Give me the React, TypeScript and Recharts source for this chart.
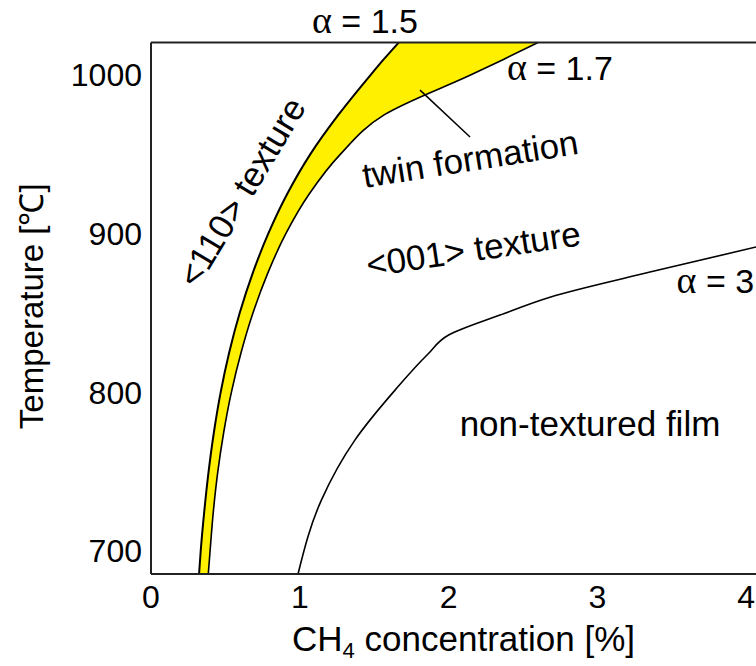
import React from 'react';
import {
  ComposedChart,
  Area,
  Line,
  XAxis,
  YAxis,
  ReferenceLine,
  ReferenceDot,
  Label,
} from 'recharts';

const FONT = '"Liberation Sans", Arial, Helvetica, sans-serif';
const SERIF = '"Liberation Serif", "Times New Roman", serif';

// Temperatures (°C) at which the two boundaries of the twin-formation band are given
const bandTemps = [685.5, 700, 725, 750, 775, 800, 825, 850, 875, 900, 925, 950, 975, 1000, 1010, 1020.5];
// CH4 concentration (%) of the α = 1.5 boundary at each of those temperatures
const alpha15Conc = [0.323, 0.334, 0.358, 0.387, 0.423, 0.468, 0.525, 0.596, 0.683, 0.788, 0.915, 1.07, 1.26, 1.475, 1.565, 1.665];
// CH4 concentration (%) of the α = 1.7 boundary at each of those temperatures
const alpha17Conc = [0.385, 0.397, 0.419, 0.449, 0.489, 0.54, 0.605, 0.685, 0.784, 0.906, 1.063, 1.272, 1.569, 2.147, 2.372, 2.601];

// α = 3 boundary between <001> texture and non-textured film
const alpha3Temps = [685.5, 732.1, 769.9, 801.4, 824.0, 836.1, 848.7, 860.0, 875.8, 891.6, 894.5];
const alpha3Conc = [0.988, 1.145, 1.37, 1.64, 1.86, 2.0, 2.345, 2.681, 3.353, 4.066, 4.2];

// Axis ranges and ticks
const xDomain = [0, 4.2];
const yDomain = [685.5, 1020.5];
const xTicks = [0, 1, 2, 3, 4];
const yTicks = [700, 800, 900, 1000];

const bandRows = bandTemps.map((t, i) => ({
  t,
  left: alpha15Conc[i],
  right: alpha17Conc[i],
  band: [alpha15Conc[i], alpha17Conc[i]],
}));

const alpha3Rows = alpha3Temps.map((t, i) => ({ t, x: alpha3Conc[i] }));

type Note = {
  x: number;
  y: number;
  angle: number;
  anchor: 'start' | 'middle' | 'end';
  baseline: 'central' | 'alphabetic';
  alpha?: string;
  text: string;
};

// Region names and boundary labels, placed in data coordinates
const notes: Note[] = [
  { x: 1.082, y: 1026.5, angle: 0, anchor: 'start', baseline: 'alphabetic', alpha: 'α', text: ' = 1.5' },
  { x: 2.392, y: 996.8, angle: 0, anchor: 'start', baseline: 'alphabetic', alpha: 'α', text: ' = 1.7' },
  { x: 4.053, y: 862.6, angle: 0, anchor: 'end', baseline: 'alphabetic', alpha: 'α', text: ' = 3' },
  { x: 0.605, y: 926.5, angle: -59, anchor: 'middle', baseline: 'central', text: '<110> texture' },
  { x: 2.144, y: 947.7, angle: -9, anchor: 'middle', baseline: 'central', text: 'twin formation' },
  { x: 2.165, y: 890.9, angle: -8.5, anchor: 'middle', baseline: 'central', text: '<001> texture' },
  { x: 2.95, y: 772.5, angle: 0, anchor: 'middle', baseline: 'alphabetic', text: 'non-textured film' },
];

// Leader from the band to the "twin formation" label
const leader = [
  { x: 1.808, y: 990.5 },
  { x: 2.144, y: 960.9 },
];

const noteShape = (n: Note) => (props: any) => {
  const { cx, cy } = props;
  return (
    <text
      x={cx}
      y={cy}
      textAnchor={n.anchor}
      dominantBaseline={n.baseline}
      transform={n.angle ? `rotate(${n.angle} ${cx} ${cy})` : undefined}
      fontSize={n.alpha ? 34 : 35}
      fontFamily={FONT}
      fill="#000"
    >
      {n.alpha ? (
        <tspan fontFamily={SERIF} fontSize={38}>
          {n.alpha}
        </tspan>
      ) : null}
      <tspan>{n.text}</tspan>
    </text>
  );
};

const XTitle = (props: any) => {
  const vb = props.viewBox;
  const cx = vb.x + vb.width / 2;
  return (
    <text x={cx} y={vb.y + 77} textAnchor="middle" fontSize={35} fontFamily={FONT} fill="#000">
      <tspan>CH</tspan>
      <tspan fontSize={22} dy={7}>
        4
      </tspan>
      <tspan dy={-7}> concentration [%]</tspan>
    </text>
  );
};

const YTitle = (props: any) => {
  const vb = props.viewBox;
  const cy = vb.y + vb.height / 2 - 2;
  const x = 43;
  return (
    <text
      x={x}
      y={cy}
      textAnchor="middle"
      transform={`rotate(-90 ${x} ${cy})`}
      fontSize={33}
      fontFamily={FONT}
      fill="#000"
    >
      Temperature [℃]
    </text>
  );
};

export default function App() {
  return (
    <div
      style={{
        position: 'absolute',
        left: 0,
        top: 0,
        width: 756,
        height: 666,
        overflow: 'hidden',
        background: '#fff',
      }}
    >
      <ComposedChart
        layout="vertical"
        width={776}
        height={666}
        data={bandRows}
        margin={{ top: 42.5, right: 0, bottom: 0, left: 0 }}
      >
        <XAxis
          type="number"
          domain={xDomain}
          ticks={xTicks}
          interval={0}
          height={92}
          tickLine={false}
          tickMargin={5}
          axisLine={{ stroke: '#222', strokeWidth: 2 }}
          tick={{ fontSize: 32, fill: '#000', fontFamily: FONT }}
        >
          <Label content={XTitle} />
        </XAxis>
        <YAxis
          type="number"
          dataKey="t"
          domain={yDomain}
          ticks={yTicks}
          interval={0}
          reversed
          width={151}
          tickLine={false}
          tickMargin={3}
          axisLine={{ stroke: '#222', strokeWidth: 2 }}
          tick={{ fontSize: 32, fill: '#000', fontFamily: FONT }}
        >
          <Label content={YTitle} />
        </YAxis>

        <Area
          type="monotone"
          dataKey="band"
          fill="#FFF000"
          fillOpacity={1}
          stroke="none"
          isAnimationActive={false}
        />
        <Line
          type="monotone"
          dataKey="left"
          stroke="#000"
          strokeWidth={2}
          dot={false}
          isAnimationActive={false}
        />
        <Line
          type="monotone"
          dataKey="right"
          stroke="#000"
          strokeWidth={1.6}
          dot={false}
          isAnimationActive={false}
        />
        <Line
          type="monotone"
          data={alpha3Rows}
          dataKey="x"
          stroke="#000"
          strokeWidth={1.6}
          dot={false}
          isAnimationActive={false}
        />

        <ReferenceLine y={yDomain[1]} stroke="#222" strokeWidth={2} ifOverflow="visible" />
        <ReferenceLine segment={leader} stroke="#000" strokeWidth={1.5} />

        {notes.map((n, i) => (
          <ReferenceDot
            key={i}
            x={n.x}
            y={n.y}
            r={0}
            ifOverflow="visible"
            shape={noteShape(n)}
          />
        ))}
      </ComposedChart>
    </div>
  );
}
